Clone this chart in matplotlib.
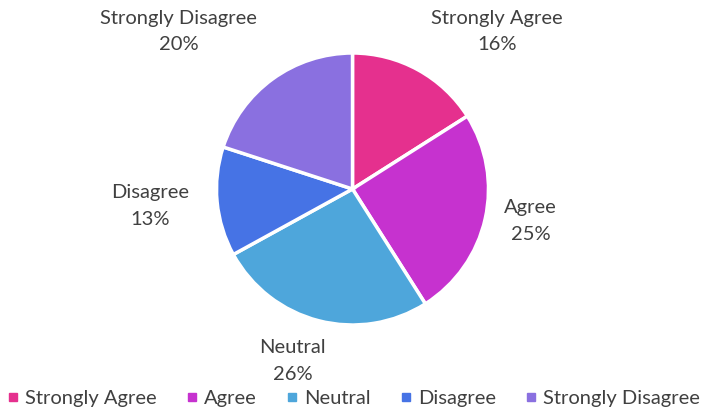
import matplotlib.pyplot as plt
from matplotlib.lines import Line2D

categories = ['Strongly Agree', 'Agree', 'Neutral', 'Disagree', 'Strongly Disagree']
shares = [16, 25, 26, 13, 20]
colors = ['#E5308E', '#C632CF', '#4EA6DB', '#4673E5', '#8A70E0']

# label positions (in pie radii from the centre), placed like the original
label_pos = [(1.06, 1.155), (1.31, -0.235), (-0.44, -1.265), (-1.485, -0.125), (-1.28, 1.16)]

plt.rcParams['font.family'] = ['Lato', 'DejaVu Sans']
text_color = '#404040'

W, H = 707, 413
fig = plt.figure(figsize=(W / 100, H / 100), dpi=100)
cx, cy, r = 352.5, 189, 136
ax = fig.add_axes([(cx - r) / W, (H - cy - r) / H, 2 * r / W, 2 * r / H])

ax.pie(shares, colors=colors, startangle=90, counterclock=False, radius=1,
       wedgeprops=dict(edgecolor='white', linewidth=2.5))
ax.set_xlim(-1, 1)
ax.set_ylim(-1, 1)
ax.set_aspect('equal')
ax.axis('off')

for (x, y), name, v in zip(label_pos, categories, shares):
    ax.text(x, y, f'{name}\n{v}%', ha='center', va='center', fontsize=14.5,
            color=text_color, linespacing=1.65)

handles = [Line2D([], [], marker='s', linestyle='none', markersize=5.5,
                  markerfacecolor=c, markeredgecolor=c) for c in colors]
fig.legend(handles, categories, loc='lower center', bbox_to_anchor=(0.5, -0.025),
           ncol=5, frameon=False, fontsize=14.5, handlelength=0.6, handletextpad=0.3,
           columnspacing=1.45, labelcolor=text_color, borderpad=0.3)

fig.savefig('out.png', dpi=100)
